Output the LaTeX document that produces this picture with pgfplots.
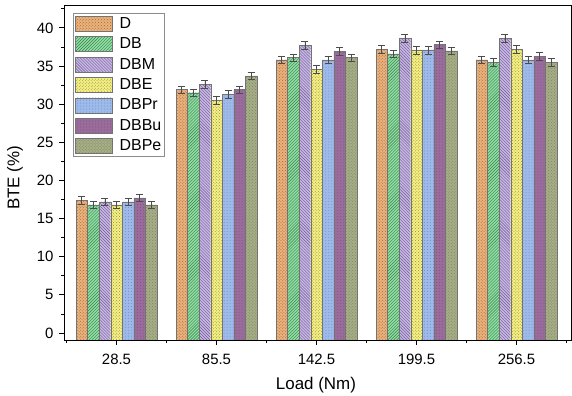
\documentclass[border=0pt]{standalone}
\usepackage{fontspec}
\setmainfont{Liberation Sans}
\usepackage{pgfplots}
\pgfplotsset{compat=1.18}
\usepackage{pgfplotstable}
\usetikzlibrary{patterns,calc}

\definecolor{cD}{HTML}{EDB27C}
\definecolor{pD}{HTML}{9A6A3A}
\definecolor{cDB}{HTML}{8EE0A0}
\definecolor{pDB}{HTML}{3F7A55}
\definecolor{cDBM}{HTML}{C8B6E6}
\definecolor{pDBM}{HTML}{6E5E8E}
\definecolor{cDBE}{HTML}{F6F07E}
\definecolor{pDBE}{HTML}{8A8A60}
\definecolor{cDBPr}{HTML}{9DBAEA}
\definecolor{pDBPr}{HTML}{6F8CC4}
\definecolor{cDBBu}{HTML}{9A6C9C}
\definecolor{pDBBu}{HTML}{7E527E}
\definecolor{cDBPe}{HTML}{A6AE86}
\definecolor{pDBPe}{HTML}{7C8462}

% Load index (0..4 -> 28.5, 85.5, 142.5, 199.5, 256.5 Nm), BTE (%) and error
\pgfplotstableread{
x  D     DB    DBM   DBE   DBPr  DBBu  DBPe  e
0  17.4  16.8  17.2  16.8  17.2  17.7  16.8  0.5
1  31.9  31.5  32.6  30.5  31.3  31.9  33.7  0.5
2  35.8  36.1  37.7  34.6  35.8  36.9  36.1  0.5
3  37.2  36.6  38.6  37.1  37.1  37.8  37.0  0.5
4  35.8  35.5  38.6  37.2  35.8  36.3  35.5  0.5
}\bte

\begin{document}
\begin{tikzpicture}
\begin{axis}[
  scale only axis,
  width=507bp, height=335bp,
  xmin=-0.525, xmax=4.545,
  ymin=0, ymax=43.92,
  y filter/.expression={y+0.92},
  xtick={0,1,2,3,4},
  xticklabels={28.5,85.5,142.5,199.5,256.5},
  minor xtick={-0.5,0.5,1.5,2.5,3.5,4.5},
  ytick={0.92,5.92,10.92,15.92,20.92,25.92,30.92,35.92,40.92},
  yticklabels={0,5,10,15,20,25,30,35,40},
  minor ytick={3.42,8.42,13.42,18.42,23.42,28.42,33.42,38.42,43.42},
  xtick pos=left, ytick pos=left,
  tick align=outside,
  major tick length=5bp, minor tick length=3bp,
  every tick/.style={black, line width=0.8bp},
  axis line style={line width=0.8bp},
  tick label style={font=\fontsize{15}{18}\selectfont},
  xticklabel style={yshift=-6bp},
  yticklabel style={xshift=-2bp},
  xlabel={Load (Nm)},
  ylabel={BTE (\%)},
  every axis x label/.style={at={(axis description cs:0.497,-0.134)}, anchor=center, font=\fontsize{17}{20}\selectfont},
  every axis y label/.style={at={(axis description cs:-0.0966,0.484)}, rotate=90, anchor=center, font=\fontsize{17}{20}\selectfont},
  ybar, bar width=0.1157,
  legend cell align=left,
  legend image code/.code={\draw[#1, draw=black!55, line width=0.4bp] (0bp,-7.5bp) rectangle (37bp,7.5bp);},
  legend style={at={(0,1)}, anchor=north west, xshift=9bp, yshift=-8bp,
    draw=black!45, line width=0.6bp, fill=white, inner xsep=2bp, inner ysep=2bp,
    row sep=3.4bp, column sep=6bp,
    font=\fontsize{16}{19}\selectfont,
    nodes={inner sep=1bp, text height=12bp, text depth=3bp}},
  error bars/y dir=both, error bars/y explicit,
  error bars/error bar style={black!70, line width=0.6bp},
  error bars/error mark options={rotate=90, mark size=3.5bp, line width=0.6bp, black!70},
]
\addplot[bar shift=-0.3471, fill=cD, draw=black!55, line width=0.4bp, postaction={pattern=crosshatch dots, pattern color=pD}]
  table[x=x, y=D, y error=e]{\bte};
\addlegendentry{D}
\addplot[bar shift=-0.2314, fill=cDB, draw=black!55, line width=0.4bp, postaction={pattern=north east lines, pattern color=pDB}]
  table[x=x, y=DB, y error=e]{\bte};
\addlegendentry{DB}
\addplot[bar shift=-0.1157, fill=cDBM, draw=black!55, line width=0.4bp, postaction={pattern=north west lines, pattern color=pDBM}]
  table[x=x, y=DBM, y error=e]{\bte};
\addlegendentry{DBM}
\addplot[bar shift=0, fill=cDBE, draw=black!55, line width=0.4bp, postaction={pattern=crosshatch dots, pattern color=pDBE}]
  table[x=x, y=DBE, y error=e]{\bte};
\addlegendentry{DBE}
\addplot[bar shift=0.1157, fill=cDBPr, draw=black!55, line width=0.4bp, postaction={pattern=dots, pattern color=pDBPr}]
  table[x=x, y=DBPr, y error=e]{\bte};
\addlegendentry{DBPr}
\addplot[bar shift=0.2314, fill=cDBBu, draw=black!55, line width=0.4bp, postaction={pattern=dots, pattern color=pDBBu}]
  table[x=x, y=DBBu, y error=e]{\bte};
\addlegendentry{DBBu}
\addplot[bar shift=0.3471, fill=cDBPe, draw=black!55, line width=0.4bp, postaction={pattern=crosshatch dots, pattern color=pDBPe}]
  table[x=x, y=DBPe, y error=e]{\bte};
\addlegendentry{DBPe}
\end{axis}
\pgfresetboundingbox
\path ($(current axis.south west)+(-64bp,-56bp)$) rectangle ($(current axis.north east)+(1bp,5bp)$);
\end{tikzpicture}
\end{document}
